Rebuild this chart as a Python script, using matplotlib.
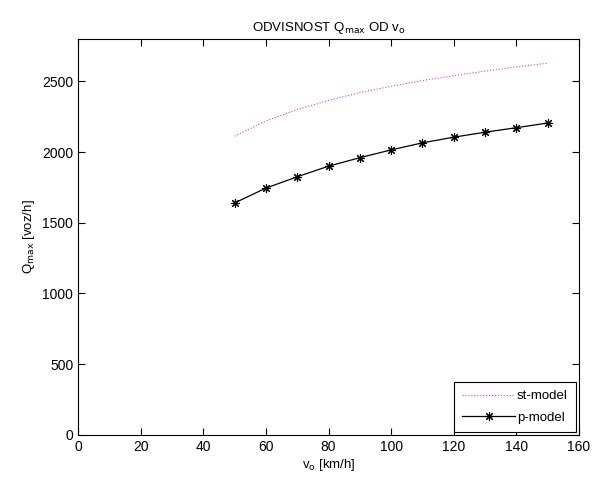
import numpy as np
import matplotlib.pyplot as plt

plt.rcParams['font.family'] = ['Liberation Sans', 'DejaVu Sans']

# hitrost v_o [km/h]
v0 = [50, 60, 70, 80, 90, 100, 110, 120, 130, 140, 150]
# st-model
q_st = [2112, 2220, 2300, 2365, 2420, 2465, 2505, 2540, 2572, 2602, 2628]
# p-model
q_p = [1640, 1745, 1825, 1900, 1960, 2015, 2065, 2105, 2140, 2172, 2205]

fig = plt.figure(figsize=(5.92, 4.8), dpi=100)
ax = fig.add_axes([0.132, 0.094, 0.846, 0.825])

ax.plot(v0, q_st, color='#d040d0', linestyle=':', linewidth=0.8, label='st-model')
ax.plot(v0, q_p, color='black', linestyle='-', linewidth=0.9,
        marker=(8, 2, 0), markersize=6.5, markeredgewidth=0.8, label='p-model')

ax.set_xlim(0, 160)
ax.set_ylim(0, 2800)
ax.set_xticks(np.arange(0, 161, 20))
ax.set_yticks(np.arange(0, 2501, 500))
ax.tick_params(direction='in', top=True, right=True, labelsize=10, length=5)
for s in ax.spines.values():
    s.set_linewidth(0.8)

ax.set_title(r'ODVISNOST Q$_{\mathrm{max}}$ OD v$_{\mathrm{o}}$', fontsize=9.5, pad=6)
ax.set_xlabel(r'v$_{\mathrm{o}}$ [km/h]', fontsize=9.5, labelpad=2)
ax.set_ylabel(r'Q$_{\mathrm{max}}$ [voz/h]', fontsize=9.5, labelpad=4)

leg = ax.legend(loc='lower right', fontsize=9.5, fancybox=False,
                edgecolor='black', framealpha=1, borderaxespad=0.25,
                handlelength=4.0, handletextpad=0.15, labelspacing=0.7,
                borderpad=0.6)
leg.get_frame().set_linewidth(0.8)

fig.savefig('out.png', dpi=100)
